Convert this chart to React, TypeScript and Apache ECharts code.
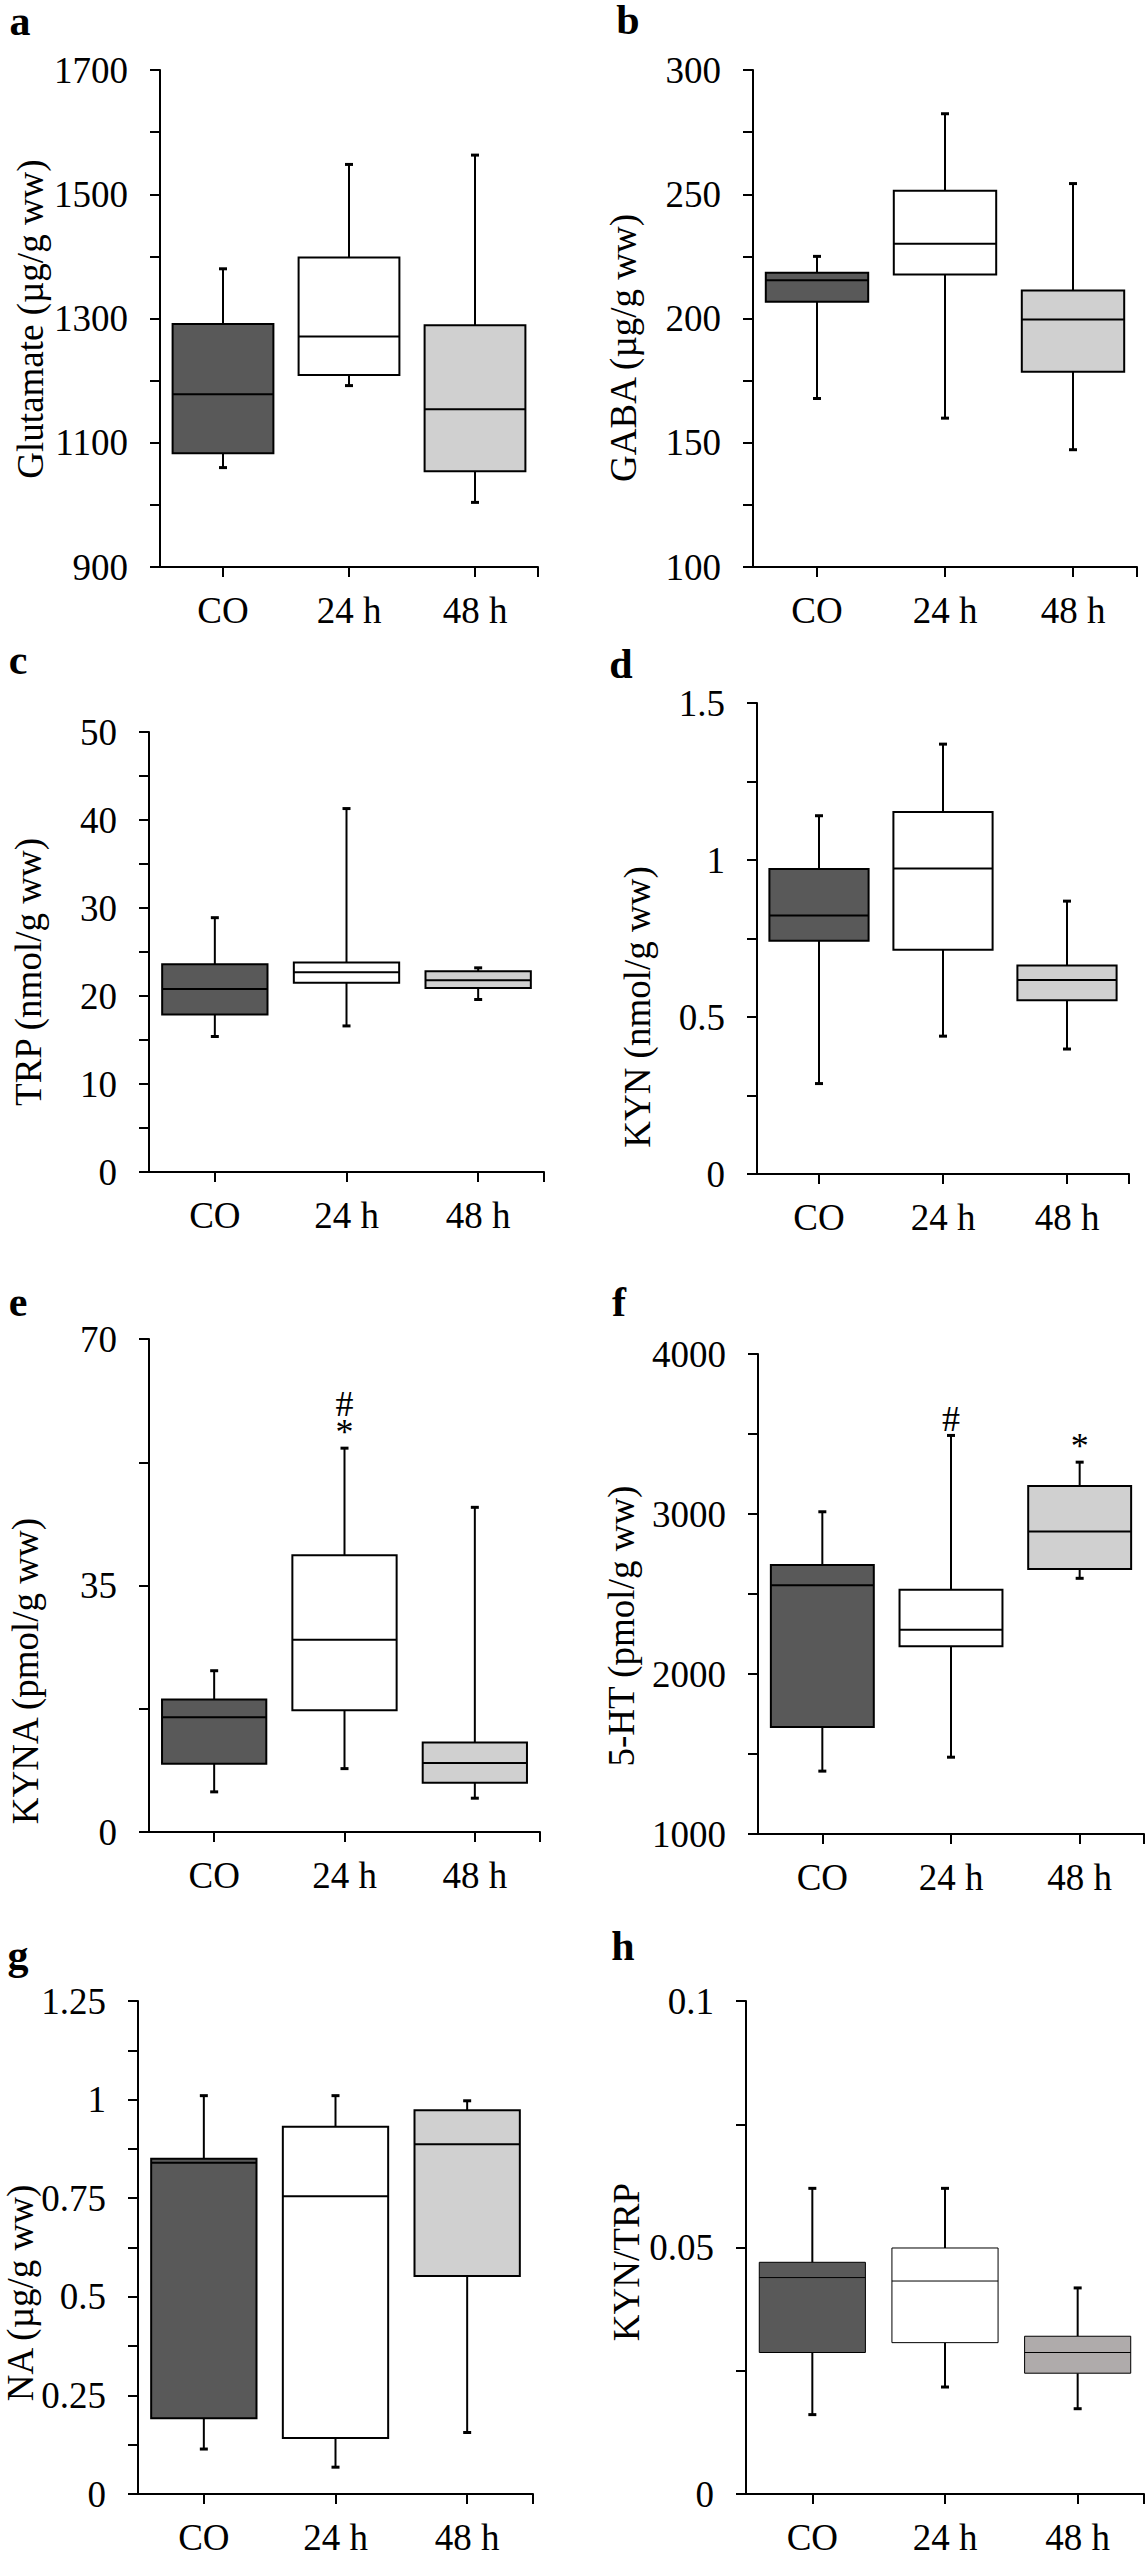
import React, { useEffect, useRef } from "react";
import * as echarts from "echarts";

// ---------------- DATA ----------------
const categories = ["CO", "24 h", "48 h"];
// each group: [min, Q1, median, Q3, max]
const glutamate = [
  [1060, 1083, 1178, 1291, 1380],
  [1192, 1209, 1271, 1398, 1548],
  [1004, 1054, 1154, 1289, 1563],
];
const gaba = [
  [167.8, 206.7, 215.4, 218.4, 225.0],
  [159.9, 217.7, 230.1, 251.4, 282.4],
  [147.2, 178.6, 199.6, 211.3, 254.3],
];
const trp = [
  [15.4, 17.9, 20.8, 23.6, 28.9],
  [16.6, 21.5, 22.7, 23.8, 41.3],
  [19.6, 20.9, 21.8, 22.8, 23.2],
];
const kyn = [
  [0.288, 0.743, 0.823, 0.971, 1.141],
  [0.439, 0.714, 0.973, 1.153, 1.369],
  [0.398, 0.553, 0.618, 0.664, 0.869],
];
const kyna = [
  [5.7, 9.7, 16.3, 18.8, 22.9],
  [9.0, 17.3, 27.3, 39.3, 54.5],
  [4.8, 7.0, 9.8, 12.7, 46.1],
];
const serotonin = [
  [1393, 1668, 2554, 2682, 3014],
  [1480, 2174, 2277, 2526, 3491],
  [2598, 2657, 2890, 3175, 3324],
];
const na = [
  [0.114, 0.192, 0.84, 0.85, 1.01],
  [0.068, 0.142, 0.755, 0.931, 1.01],
  [0.156, 0.553, 0.887, 0.973, 0.997],
];
const kynTrp = [
  [0.0161, 0.0287, 0.0439, 0.047, 0.062],
  [0.0217, 0.0307, 0.0432, 0.0499, 0.062],
  [0.0173, 0.0245, 0.0287, 0.032, 0.0418],
];
// significance marks above whiskers
const kynaMarks = ["", "#\n*", ""];
const serotoninMarks = ["", "#", "*"];
const noMarks = ["", "", ""];

// y axis ranges: [min, max, labelled interval]
const glutamateAxis = [900, 1700, 200];
const gabaAxis = [100, 300, 50];
const trpAxis = [0, 50, 10];
const kynAxis = [0, 1.5, 0.5];
const kynaAxis = [0, 70, 35];
const serotoninAxis = [1000, 4000, 1000];
const naAxis = [0, 1.25, 0.25];
const kynTrpAxis = [0, 0.1, 0.05];

// ---------------- STYLE / LAYOUT ----------------
const FONT = '"Liberation Serif", "Times New Roman", serif';
const TICK_FONT = 37;
const TITLE_FONT = 37;
const fillsMain = ["#595959", "#ffffff", "#d0d0d0"];
const fillsH = ["#595959", "#ffffff", "#afabab"];

type Panel = {
  letter: string;
  title: string;
  data: number[][];
  marks: string[];
  axis: number[];
  grid: number[]; // left, top, width, height
  letterPos: number[];
  titlePos: number[];
  fills: string[];
  boxLine: number;
};

const panels: Panel[] = [
  { letter: "a", title: "Glutamate (µg/g ww)", data: glutamate, marks: noMarks, axis: glutamateAxis,
    grid: [160, 70, 378, 497], letterPos: [20, 21], titlePos: [30, 319], fills: fillsMain, boxLine: 2 },
  { letter: "b", title: "GABA (µg/g ww)", data: gaba, marks: noMarks, axis: gabaAxis,
    grid: [753, 70, 384, 497], letterPos: [628, 20], titlePos: [623, 348], fills: fillsMain, boxLine: 2 },
  { letter: "c", title: "TRP (nmol/g ww)", data: trp, marks: noMarks, axis: trpAxis,
    grid: [149, 732, 395, 440], letterPos: [18, 660], titlePos: [28, 972], fills: fillsMain, boxLine: 2 },
  { letter: "d", title: "KYN (nmol/g ww)", data: kyn, marks: noMarks, axis: kynAxis,
    grid: [757, 703, 372, 471], letterPos: [621, 664], titlePos: [637, 1007], fills: fillsMain, boxLine: 2 },
  { letter: "e", title: "KYNA (pmol/g ww)", data: kyna, marks: kynaMarks, axis: kynaAxis,
    grid: [149, 1339, 391, 493], letterPos: [18, 1302], titlePos: [25, 1671], fills: fillsMain, boxLine: 2 },
  { letter: "f", title: "5-HT (pmol/g ww)", data: serotonin, marks: serotoninMarks, axis: serotoninAxis,
    grid: [758, 1354, 386, 480], letterPos: [619, 1302], titlePos: [621, 1626], fills: fillsMain, boxLine: 2 },
  { letter: "g", title: "NA (µg/g ww)", data: na, marks: noMarks, axis: naAxis,
    grid: [138, 2001, 395, 499], letterPos: [18, 1955], titlePos: [20, 2293], fills: fillsMain, boxLine: 2 },
  { letter: "h", title: "KYN/TRP", data: kynTrp, marks: noMarks, axis: kynTrpAxis,
    grid: [746, 2001, 398, 499], letterPos: [623, 1946], titlePos: [626, 2262], fills: fillsH, boxLine: 1 },
];

const fmt = (v: number) => String(Math.round(v * 1e6) / 1e6);
const lineStyle = { color: "#000", width: 2 };

function makeRender(p: Panel) {
  return (params: any, api: any) => {
    const k = api.value(0) as number;
    const vals = [1, 2, 3, 4, 5].map((j) => api.value(j) as number);
    const pts = vals.map((v) => api.coord([k, v]));
    const cx = pts[0][0];
    const [yMin, yQ1, yMed, yQ3, yMax] = pts.map((q: number[]) => q[1]);
    const bw = api.size([1, 0])[0] * 0.8;
    const cap = 8;
    const children: any[] = [
      { type: "line", shape: { x1: cx, y1: yQ3, x2: cx, y2: yMax }, style: { stroke: "#000", lineWidth: 2 } },
      { type: "line", shape: { x1: cx, y1: yQ1, x2: cx, y2: yMin }, style: { stroke: "#000", lineWidth: 2 } },
      { type: "line", shape: { x1: cx - cap / 2, y1: yMax, x2: cx + cap / 2, y2: yMax }, style: { stroke: "#000", lineWidth: 3 } },
      { type: "line", shape: { x1: cx - cap / 2, y1: yMin, x2: cx + cap / 2, y2: yMin }, style: { stroke: "#000", lineWidth: 3 } },
      {
        type: "rect",
        shape: { x: cx - bw / 2, y: yQ3, width: bw, height: yQ1 - yQ3 },
        style: { fill: p.fills[k], stroke: "#000", lineWidth: p.boxLine },
      },
      { type: "line", shape: { x1: cx - bw / 2, y1: yMed, x2: cx + bw / 2, y2: yMed }, style: { stroke: "#000", lineWidth: p.boxLine } },
    ];
    const mark = p.marks[k];
    if (mark) {
      children.push({
        type: "text",
        x: cx,
        y: yMax - 2,
        style: {
          text: mark,
          fontSize: 36,
          fontFamily: FONT,
          fill: "#000",
          align: "center",
          verticalAlign: "bottom",
          lineHeight: 28,
        },
      });
    }
    return { type: "group", children };
  };
}

function buildOption() {
  const grid: any[] = [];
  const xAxis: any[] = [];
  const yAxis: any[] = [];
  const series: any[] = [];
  const graphic: any[] = [];

  panels.forEach((p, i) => {
    grid.push({ left: p.grid[0], top: p.grid[1], width: p.grid[2], height: p.grid[3] });
    xAxis.push({
      type: "category",
      gridIndex: i,
      data: categories,
      boundaryGap: true,
      position: "bottom",
      axisLine: { show: true, lineStyle },
      axisTick: { show: true, alignWithLabel: true, length: 10, lineStyle },
      axisLabel: { color: "#000", fontSize: TICK_FONT, fontFamily: FONT, margin: 25 },
      splitLine: { show: false },
    });
    xAxis.push({
      type: "value",
      gridIndex: i,
      min: 0,
      max: 1,
      position: "bottom",
      axisLine: { show: false },
      axisLabel: { show: false },
      splitLine: { show: false },
      axisTick: { show: true, customValues: [1], length: 10, lineStyle },
    });
    yAxis.push({
      type: "value",
      gridIndex: i,
      min: p.axis[0],
      max: p.axis[1],
      interval: p.axis[2],
      axisLine: { show: true, lineStyle },
      axisTick: { show: true, length: 10, lineStyle },
      minorTick: { show: true, splitNumber: 2, length: 10, lineStyle },
      axisLabel: { color: "#000", fontSize: TICK_FONT, fontFamily: FONT, margin: 32, formatter: fmt },
      splitLine: { show: false },
      minorSplitLine: { show: false },
    });
    series.push({
      type: "custom",
      xAxisIndex: 2 * i,
      yAxisIndex: i,
      data: p.data.map((d, k) => [k, ...d]),
      encode: { x: 0, y: [1, 2, 3, 4, 5] },
      renderItem: makeRender(p),
      z: 10,
    });
    graphic.push({
      type: "text",
      x: p.letterPos[0],
      y: p.letterPos[1],
      style: {
        text: p.letter,
        fontSize: 42,
        fontWeight: "bold",
        fontFamily: FONT,
        fill: "#000",
        align: "center",
        verticalAlign: "middle",
      },
    });
    graphic.push({
      type: "text",
      x: p.titlePos[0],
      y: p.titlePos[1],
      rotation: Math.PI / 2,
      style: {
        text: p.title,
        fontSize: TITLE_FONT,
        fontFamily: FONT,
        fill: "#000",
        align: "center",
        verticalAlign: "middle",
      },
    });
  });

  return {
    animation: false,
    backgroundColor: "#ffffff",
    grid,
    xAxis,
    yAxis,
    series,
    graphic,
  };
}

export default function App() {
  const ref = useRef<HTMLDivElement>(null);
  useEffect(() => {
    document.body.style.margin = "0";
    if (!ref.current) return;
    const chart = echarts.init(ref.current, undefined, { renderer: "svg" });
    chart.setOption(buildOption());
    return () => chart.dispose();
  }, []);
  return (
    <div
      ref={ref}
      style={{ position: "absolute", left: 0, top: 0, width: 1146, height: 2556, background: "#fff" }}
    />
  );
}
